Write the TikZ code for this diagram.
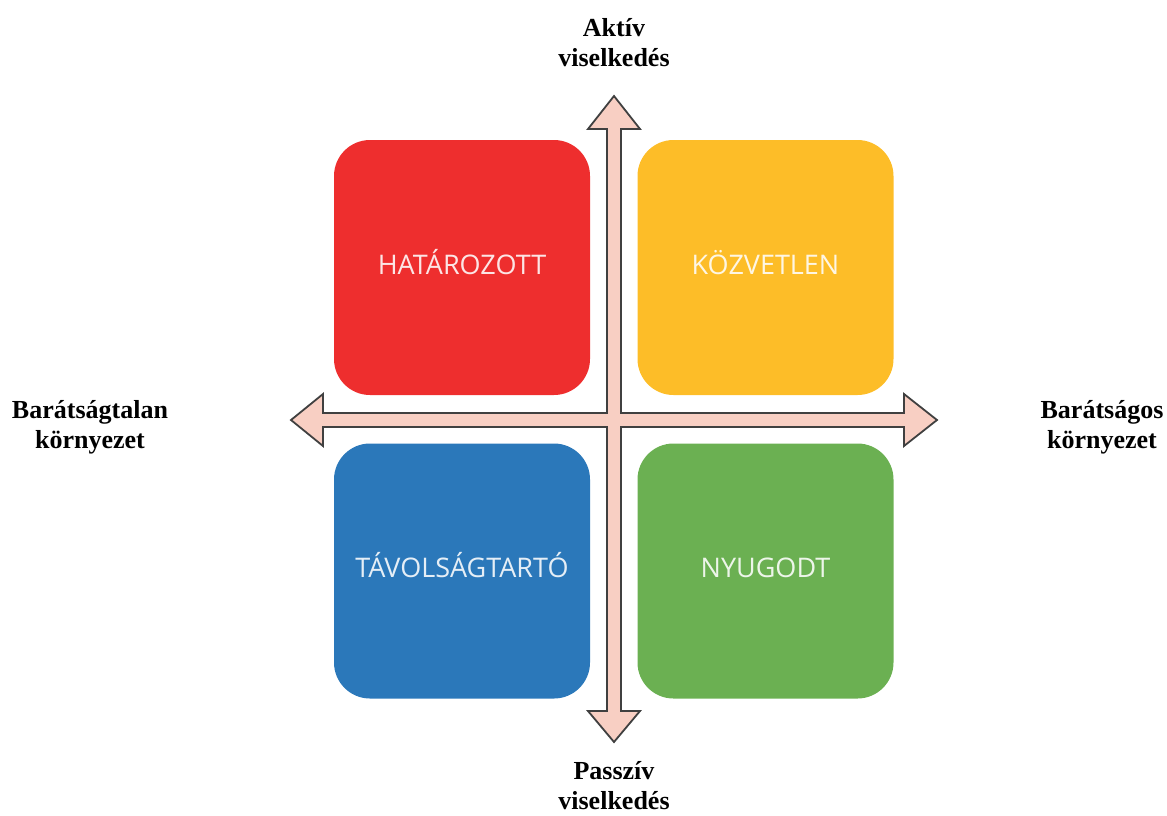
\documentclass[tikz,border=0pt]{standalone}
\usepackage{fontspec}
\setmainfont{Liberation Serif}
\newfontfamily\boxfont{Open Sans}
\definecolor{cred}{HTML}{EE2E2E}
\definecolor{cyellow}{HTML}{FDBD28}
\definecolor{cblue}{HTML}{2B78BA}
\definecolor{cgreen}{HTML}{6BB052}
\definecolor{arrfill}{HTML}{F8CFC3}
\definecolor{arrline}{HTML}{404040}
\begin{document}
\begin{tikzpicture}[x=1pt,y=-1pt,
  quad/.style={rounded corners=36pt, minimum width=256pt, minimum height=255pt, inner sep=0pt,
    text height=19pt, text depth=6pt, text=white, text opacity=0.88, font=\boxfont\fontsize{27}{32}\selectfont},
  axlabel/.style={align=center, font=\bfseries\fontsize{26}{30}\selectfont, inner sep=0pt}]
\useasboundingbox (0,0) rectangle (1167,815);
\node[quad, fill=cred] (hat) at (462,267.5) {HATÁROZOTT};
\node[quad, fill=cyellow] (koz) at (765.5,267.5) {KÖZVETLEN};
\node[quad, fill=cblue] (tav) at (462,571) {TÁVOLSÁGTARTÓ};
\node[quad, fill=cgreen] (nyu) at (765.5,571) {NYUGODT};
\coordinate (c) at (614,420);
\draw[fill=arrfill, draw=arrline, line width=1.8pt, line join=miter]
  (614,96) -- (640,129) -- (621,129) -- (621,413) -- (904,413) -- (904,394) -- (937,420)
  -- (904,446) -- (904,427) -- (621,427) -- (621,711) -- (640,711) -- (614,742)
  -- (588,711) -- (607,711) -- (607,427) -- (323,427) -- (323,446) -- (291,420)
  -- (323,394) -- (323,413) -- (607,413) -- (607,129) -- (588,129) -- cycle;
\node[axlabel] (top) at (614,43) {Aktív\\viselkedés};
\node[axlabel] (bot) at (614,786) {Passzív\\viselkedés};
\node[axlabel] (left) at (90,427) {Barátságtalan\\környezet};
\node[axlabel] (right) at (1102,427) {Barátságos\\környezet};
\end{tikzpicture}
\end{document}
